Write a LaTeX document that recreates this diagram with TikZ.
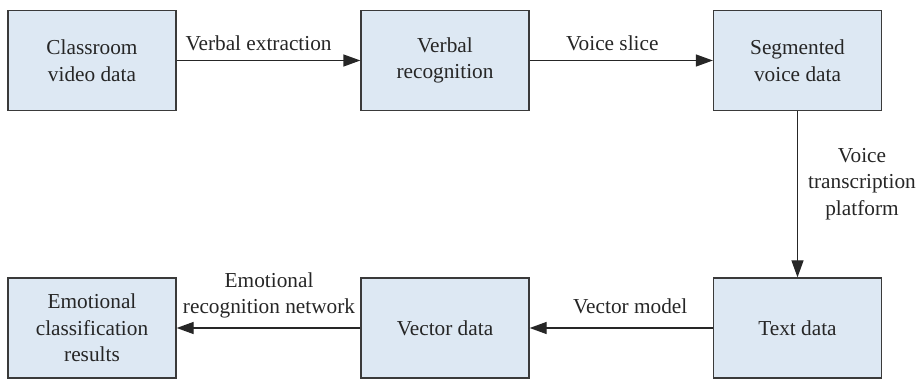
\documentclass[tikz,border=0pt]{standalone}
\usepackage{fontspec}
\setmainfont{Liberation Serif}
\usetikzlibrary{arrows.meta}
\definecolor{boxfill}{HTML}{DDE8F3}
\definecolor{boxline}{HTML}{3A3A3A}
\begin{document}
\begin{tikzpicture}[x=1pt,y=-1pt,
  font=\fontsize{21.3}{26.5}\selectfont,
  stage/.style={draw=boxline,fill=boxfill,line width=1.3pt,
    minimum width=168pt,minimum height=100pt,inner sep=0pt,
    align=center,text=black!85},
  flow/.style={line width=1.3pt,draw=black!85,
    -{Triangle[length=17pt,width=12pt]}},
  lbl/.style={anchor=base,align=center,inner sep=0pt,text=black!85}]
  \useasboundingbox (0,0) rectangle (921,379);
  % top row
  \node[stage] (cvd) at (92,60.5) {Classroom\\video data};
  \node[stage] (vr)  at (445,60.5) {Verbal\\recognition};
  \node[stage] (svd) at (797.5,60.5) {Segmented\\voice data};
  % bottom row
  \node[stage] (ecr) at (92,328) {Emotional\\classification\\results};
  \node[stage] (vd)  at (445,328) {Vector data};
  \node[stage] (td)  at (797.5,328) {Text data};
  % connectors
  \draw[flow] (cvd) -- node[lbl,pos=0.446,yshift=10pt] (l1) {Verbal extraction} (vr);
  \draw[flow] (vr) -- node[lbl,pos=0.451,yshift=10pt] (l2) {Voice slice} (svd);
  \draw[flow] (svd) -- (td);
  \node[align=center,inner sep=0pt,text=black!85] (l3) at (862,184) {Voice\\transcription\\platform};
  \draw[flow] (td) -- node[lbl,pos=0.451,yshift=14pt] (l4) {Vector model} (vd);
  \draw[flow] (vd) -- node[lbl,pos=0.497,yshift=14pt] (l5) {Emotional\\recognition network} (ecr);
\end{tikzpicture}
\end{document}
